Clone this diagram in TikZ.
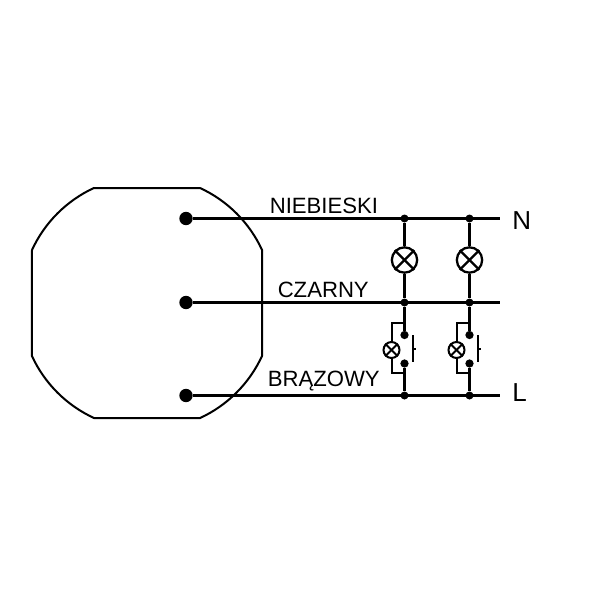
\documentclass[tikz,border=0pt]{standalone}
\usepackage{fontspec}
\setmainfont{Liberation Sans}
\tikzset{
	wire/.style={line width=2.1pt},
	crossing/.style={line width=1.7pt},
	thinwire/.style={line width=1.5pt},
	bigdot/.style={circle,fill=black,inner sep=0pt,minimum size=10pt},
	joint/.style={circle,fill=black,inner sep=0pt,minimum size=6pt},
	contact/.style={circle,fill=black,inner sep=0pt,minimum size=6.2pt},
	lamp/.style={circle,draw,line width=1.7pt,fill=white,inner sep=0pt,minimum size=19pt},
	smalllamp/.style={circle,draw,line width=1.5pt,fill=white,inner sep=0pt,minimum size=12pt},
	label/.style={anchor=base west,inner sep=0pt,font=\fontsize{16.6}{18}\selectfont},
	phase/.style={anchor=base west,inner sep=0pt,font=\fontsize{19.5}{22}\selectfont},
}
\begin{document}
\begin{tikzpicture}[x=0.75pt,y=0.75pt,yscale=-1,xscale=1]
	\useasboundingbox (0,0) rectangle (600,600);

	%Housing
	\draw [line width=1.5pt,line join=round] (94,188) -- (200,188) arc [start angle=-65.3,end angle=-24.7,radius=126.6] -- (262,356) arc [start angle=24.7,end angle=65.3,radius=126.6] -- (94,418) arc [start angle=114.7,end angle=155.3,radius=126.6] -- (32,250) arc [start angle=-155.3,end angle=-114.7,radius=126.6] -- cycle ;

	%Terminals
	\node [bigdot] (termN) at (186,218.5) {};
	\node [bigdot] (termC) at (186,302.5) {};
	\node [bigdot] (termL) at (186,395.5) {};
	\coordinate (endN) at (500,218.5);
	\coordinate (endC) at (500,302.5);
	\coordinate (endL) at (500,395.5);
	\draw [wire] (termN) -- (endN) ;
	\draw [wire] (termC) -- (endC) ;
	\draw [wire] (termL) -- (endL) ;

	%Junctions
	\node [joint] (topA) at (404.5,218.5) {};
	\node [joint] (topB) at (469.5,218.5) {};
	\node [joint] (midA) at (404.5,302.5) {};
	\node [joint] (midB) at (469.5,302.5) {};
	\node [joint] (lowA) at (404.5,395.5) {};
	\node [joint] (lowB) at (469.5,395.5) {};

	%Large lamps
	\node [lamp] (lampA) at (404.5,260) {};
	\node [lamp] (lampB) at (469.5,260) {};
	\draw [wire] (topA) -- (lampA) ;
	\draw [wire] (lampA) -- (midA) ;
	\draw [wire] (topB) -- (lampB) ;
	\draw [wire] (lampB) -- (midB) ;
	\draw [crossing] (lampA.45) -- (lampA.225) ;
	\draw [crossing] (lampA.135) -- (lampA.315) ;
	\draw [crossing] (lampB.45) -- (lampB.225) ;
	\draw [crossing] (lampB.135) -- (lampB.315) ;

	%Push button A
	\node [smalllamp] (glowA) at (391.5,350) {};
	\node [contact] (upA) at (404.5,335) {};
	\node [contact] (downA) at (404.5,363.5) {};
	\coordinate (railupA) at (404.5,323);
	\coordinate (raildownA) at (404.5,373);
	\draw [wire] (midA) -- (upA) ;
	\draw [wire] (downA) -- (lowA) ;
	\draw [thinwire] (railupA) -| (glowA) ;
	\draw [thinwire] (raildownA) -| (glowA) ;
	\draw [thinwire] (glowA.45) -- (glowA.225) ;
	\draw [thinwire] (glowA.135) -- (glowA.315) ;
	\draw [thinwire] (413,335) -- (413,362) (413,349) -- (416,349) ;

	%Push button B
	\node [smalllamp] (glowB) at (456.5,350) {};
	\node [contact] (upB) at (469.5,335) {};
	\node [contact] (downB) at (469.5,363.5) {};
	\coordinate (railupB) at (469.5,323);
	\coordinate (raildownB) at (469.5,373);
	\draw [wire] (midB) -- (upB) ;
	\draw [wire] (downB) -- (lowB) ;
	\draw [thinwire] (railupB) -| (glowB) ;
	\draw [thinwire] (raildownB) -| (glowB) ;
	\draw [thinwire] (glowB.45) -- (glowB.225) ;
	\draw [thinwire] (glowB.135) -- (glowB.315) ;
	\draw [thinwire] (478,335) -- (478,362) (478,349) -- (481,349) ;

	% Text Node
	\node [label] (nameN) at (269.5,213) {NIEBIESKI};
	% Text Node
	\node [label] (nameC) at (277.5,297) {CZARNY};
	% Text Node
	\node [label] (nameL) at (267.5,386) {BRĄZOWY};
	% Text Node
	\node [phase] (phaseN) at (512,229) {N};
	% Text Node
	\node [phase] (phaseL) at (512,401) {L};

\end{tikzpicture}
\end{document}
